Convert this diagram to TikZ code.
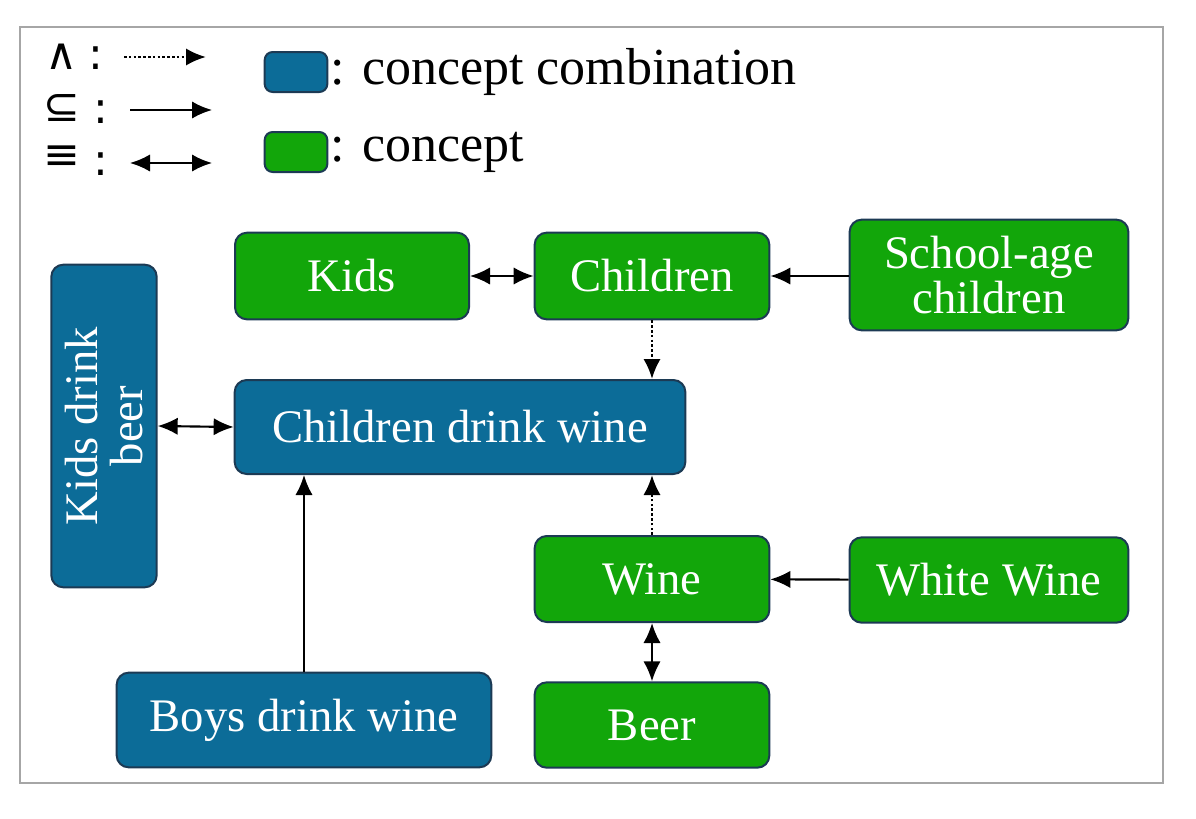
\documentclass[tikz,border=0pt]{standalone}
\usepackage{fontspec}
\setmainfont{Liberation Serif}
\newfontfamily\symfont{DejaVu Sans}
\usetikzlibrary{arrows.meta}

\definecolor{combblue}{RGB}{12,108,152}
\definecolor{conceptgreen}{RGB}{18,166,10}
\definecolor{edgenavy}{RGB}{28,58,84}

\begin{document}
\begin{tikzpicture}[
  x=0.75pt,
  y=-0.75pt,
  line/.style={draw=black,line width=1.6pt},
  arrow/.style={line,-{Latex[length=15pt,width=13pt]}},
  biarrow/.style={line,{Latex[length=15pt,width=13pt]}-{Latex[length=15pt,width=13pt]}},
  andarrow/.style={arrow,line width=2pt,dash pattern=on 2pt off 1.6pt},
  box/.style={draw=edgenavy,line width=1.5pt,rounded corners=9pt,align=center,
    text=white,font=\fontsize{35}{38}\selectfont,inner sep=0pt},
  combo/.style={box,fill=combblue},
  concept/.style={box,fill=conceptgreen},
  legendtext/.style={anchor=west,font=\fontsize{39}{42}\selectfont},
  legendsym/.style={font=\symfont\fontsize{33}{35}\selectfont,inner sep=0pt}
]
\useasboundingbox (0,0) rectangle (1196,818);
\draw[draw=black!35,line width=1.5pt] (20,27) rectangle (1163,783);

% Legend
\node[legendsym] (andsym) at (62,57) {∧};
\node[legendsym] (andcol) at (96,58) {:};
\coordinate (anda) at (124,57);
\coordinate (andb) at (206,57);
\draw[andarrow] (anda) -- (andb);

\node[legendsym] (subsym) at (62,108) {⊆};
\node[legendsym] (subcol) at (101,112) {:};
\coordinate (suba) at (130,110);
\coordinate (subb) at (212,110);
\draw[arrow] (suba) -- (subb);

\node[legendsym] (eqsym) at (62,158) {≡};
\node[legendsym] (eqcol) at (101,164) {:};
\coordinate (eqa) at (130,163);
\coordinate (eqb) at (212,163);
\draw[biarrow] (eqa) -- (eqb);

\node[combo,minimum width=47pt,minimum height=30pt,rounded corners=6pt] (legcombo) at (296,72) {};
\node[legendtext,xshift=-2pt] (legcombotext) at (legcombo.east) {: concept combination};
\node[concept,minimum width=47pt,minimum height=30pt,rounded corners=6pt] (legconcept) at (296,152) {};
\node[legendtext,xshift=-2pt] (legconcepttext) at (legconcept.east) {: concept};

% Concepts
\node[concept,minimum width=175.5pt,minimum height=65pt] (kids) at (352,276) {Kids};
\node[concept,minimum width=176pt,minimum height=65pt] (children) at (652,276) {Children};
\node[concept,minimum width=209pt,minimum height=83pt] (schoolage) at (989,275)
  {School-age\\[-4pt]children};
\node[concept,minimum width=176pt,minimum height=64.5pt] (wine) at (652,579) {Wine};
\node[concept,minimum width=209pt,minimum height=64pt] (whitewine) at (989,580) {White Wine};
\node[concept,minimum width=176pt,minimum height=64pt] (beer) at (652,725) {Beer};

% Concept combinations
\node[combo,minimum width=338pt,minimum height=70.5pt] (cdw) at (460,427) {Children drink wine};
\node[combo,minimum width=242pt,minimum height=79pt,rotate=90] (kdb) at (104,426)
  {Kids drink\\[-4pt]beer};
\node[combo,minimum width=281pt,minimum height=71pt] (bdw) at (304,720) {Boys drink wine};

% Relations
\draw[biarrow] (kids) -- (children);
\draw[arrow] (schoolage.west |- children) -- (children);
\draw[andarrow] (children.south) -- (cdw.north -| children.south);
\draw[andarrow] (wine.north) -- (cdw.south -| wine.north);
\draw[arrow] (whitewine) -- (wine);
\draw[biarrow] (wine) -- (beer);
\draw[biarrow] (kdb.south) -- (cdw.west);
\draw[arrow] (bdw.north) -- (cdw.south -| bdw.north);

\end{tikzpicture}
\end{document}
